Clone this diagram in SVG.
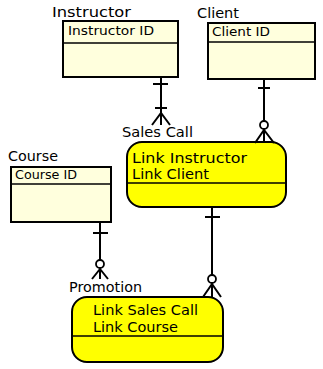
<svg xmlns="http://www.w3.org/2000/svg" width="323" height="369" viewBox="0 0 323 369">
  <style>
    text { font-family: "DejaVu Sans", "Liberation Sans", sans-serif; fill: #000; }
    .title { font-size: 14px; }
    .attr { font-size: 12px; }
    .link { font-size: 14px; }
    .entity { fill: #FFFFDD; stroke: #000; stroke-width: 2; }
    .assoc { fill: #FFFF00; stroke: #000; stroke-width: 2; }
    .div { stroke: #000; stroke-width: 1.5; }
    .conn line, .conn polyline { stroke: #000; stroke-width: 2; fill: none; }
    .conn circle { stroke: #000; stroke-width: 1.8; fill: #fff; }
  </style>

  <!-- Instructor entity -->
  <g id="instructor">
    <text class="title" x="52" y="17" textLength="79" lengthAdjust="spacingAndGlyphs">Instructor</text>
    <rect class="entity" x="63" y="21" width="115" height="56"/>
    <line class="div" x1="63" y1="43" x2="178" y2="43"/>
    <text class="attr" x="68" y="35" textLength="86" lengthAdjust="spacingAndGlyphs">Instructor ID</text>
  </g>

  <!-- Client entity -->
  <g id="client">
    <text class="title" x="197" y="18" textLength="42" lengthAdjust="spacingAndGlyphs">Client</text>
    <rect class="entity" x="208" y="23" width="107" height="56"/>
    <line class="div" x1="208" y1="42" x2="315" y2="42"/>
    <text class="attr" x="212" y="36" textLength="58" lengthAdjust="spacingAndGlyphs">Client ID</text>
  </g>

  <!-- Course entity -->
  <g id="course">
    <text class="title" x="8" y="161" textLength="50" lengthAdjust="spacingAndGlyphs">Course</text>
    <rect class="entity" x="11" y="167" width="100" height="55"/>
    <line class="div" x1="11" y1="184" x2="111" y2="184"/>
    <text class="attr" x="15" y="179" textLength="62" lengthAdjust="spacingAndGlyphs">Course ID</text>
  </g>

  <!-- Sales Call associative entity -->
  <g id="sales-call">
    <text class="title" x="122" y="137" textLength="71" lengthAdjust="spacingAndGlyphs">Sales Call</text>
    <rect class="assoc" x="127" y="142" width="159" height="65" rx="15" ry="15"/>
    <line class="div" x1="127" y1="183" x2="286" y2="183"/>
    <text class="link" x="132" y="163" textLength="115" lengthAdjust="spacingAndGlyphs">Link Instructor</text>
    <text class="link" x="132" y="179" textLength="77" lengthAdjust="spacingAndGlyphs">Link Client</text>
  </g>

  <!-- Promotion associative entity -->
  <g id="promotion">
    <text class="title" x="69" y="292" textLength="73" lengthAdjust="spacingAndGlyphs">Promotion</text>
    <rect class="assoc" x="72" y="297" width="151" height="65" rx="15" ry="15"/>
    <line class="div" x1="72" y1="336" x2="223" y2="336"/>
    <text class="link" x="93" y="315" textLength="105" lengthAdjust="spacingAndGlyphs">Link Sales Call</text>
    <text class="link" x="93" y="332" textLength="85" lengthAdjust="spacingAndGlyphs">Link Course</text>
  </g>

  <!-- Relationship lines with crow's-foot ends -->
  <g id="connectors" class="conn">
    <!-- Instructor to Sales Call: one and only one / one or many -->
    <line x1="161" y1="77" x2="161" y2="125"/>
    <line x1="153" y1="84" x2="168" y2="84"/>
    <line x1="155" y1="108" x2="167" y2="108"/>
    <polyline points="152,125 161,113 170,125"/>

    <!-- Client to Sales Call: one / zero or many -->
    <line x1="264" y1="79" x2="264" y2="121"/>
    <line x1="258" y1="88" x2="270" y2="88"/>
    <line x1="264" y1="130" x2="264" y2="143"/>
    <polyline points="255,143 264,130 274,143"/>
    <circle cx="264" cy="125" r="4"/>

    <!-- Course to Promotion: one / zero or many -->
    <line x1="100" y1="222" x2="100" y2="260"/>
    <line x1="93" y1="233" x2="108" y2="233"/>
    <line x1="100" y1="269" x2="100" y2="279"/>
    <polyline points="92,279 100,269 108,279"/>
    <circle cx="100" cy="264" r="4"/>

    <!-- Sales Call to Promotion: one / zero or many -->
    <line x1="212" y1="207" x2="212" y2="275"/>
    <line x1="205" y1="217" x2="220" y2="217"/>
    <line x1="212" y1="284" x2="212" y2="297"/>
    <polyline points="203,297 212,284 221,297"/>
    <circle cx="212" cy="279" r="4"/>
  </g>
</svg>
